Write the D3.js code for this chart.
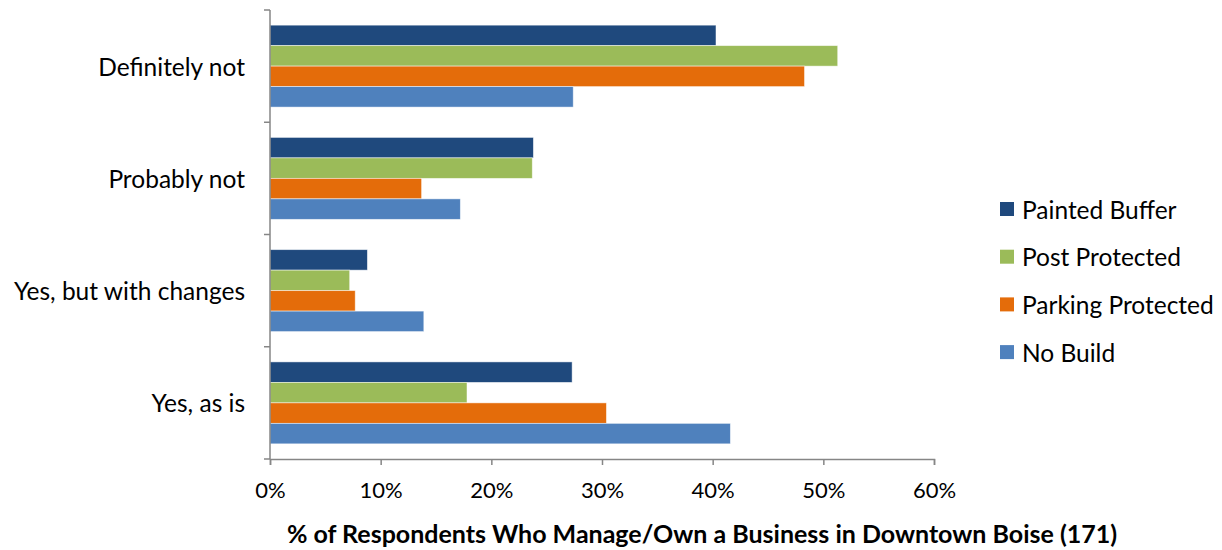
<!DOCTYPE html>
<html lang="en">
<head>
    <meta charset="UTF-8">
    <title>Respondents Who Manage/Own a Business in Downtown Boise</title>
    <script src="https://d3js.org/d3.v7.min.js"></script>
    <style>
        body { margin: 0; background: #fff; }
        svg text { font-family: Lato, "Open Sans", sans-serif; fill: #000; }
        .axis-line { stroke: #868686; stroke-width: 1.5; }
    </style>
</head>
<body>
    <svg id="chart" width="1222" height="550"></svg>

    <script>
        // data (percent)
        const categories = ['Definitely not', 'Probably not', 'Yes, but with changes', 'Yes, as is'];
        const seriesNames = ['Painted Buffer', 'Post Protected', 'Parking Protected', 'No Build'];
        const seriesColors = ['#1F497D', '#9BBB59', '#E46C0A', '#4F81BD'];
        const paintedBuffer = [40.3, 23.8, 8.8, 27.3];
        const postProtected = [51.3, 23.7, 7.2, 17.8];
        const parkingProtected = [48.3, 13.7, 7.7, 30.4];
        const noBuild = [27.4, 17.2, 13.9, 41.6];
        const xTicks = [0, 10, 20, 30, 40, 50, 60];
        const xTitle = '% of Respondents Who Manage/Own a Business in Downtown Boise (171)';

        const seriesValues = [paintedBuffer, postProtected, parkingProtected, noBuild];

        const svg = d3.select('#chart');
        const plot = { left: 270, right: 934, top: 10, bottom: 459 };

        const x = d3.scaleLinear().domain([0, 60]).range([plot.left, plot.right]);
        const y0 = d3.scaleBand().domain(categories).range([plot.top, plot.bottom])
            .paddingInner(0.27).paddingOuter(0.135);
        const y1 = d3.scaleBand().domain(seriesNames).range([0, y0.bandwidth()]);
        const color = d3.scaleOrdinal().domain(seriesNames).range(seriesColors);

        // bars
        const groups = svg.append('g').selectAll('g')
            .data(categories)
            .join('g')
            .attr('transform', d => `translate(0,${y0(d)})`);

        groups.selectAll('rect')
            .data((c, i) => seriesNames.map((s, j) => ({ s, v: seriesValues[j][i] })))
            .join('rect')
            .attr('x', x(0))
            .attr('y', d => y1(d.s))
            .attr('width', d => x(d.v) - x(0))
            .attr('height', y1.bandwidth())
            .attr('fill', d => color(d.s))
            .attr('stroke', 'rgba(255,255,255,0.6)')
            .attr('stroke-width', 0.8);

        // y axis line and ticks at category boundaries
        const yBounds = d3.range(categories.length + 1).map(i => plot.top + i * y0.step());
        svg.append('line').attr('class', 'axis-line')
            .attr('x1', plot.left).attr('x2', plot.left)
            .attr('y1', plot.top).attr('y2', plot.bottom);
        svg.append('g').selectAll('line')
            .data(yBounds)
            .join('line')
            .attr('class', 'axis-line')
            .attr('x1', plot.left - 6).attr('x2', plot.left)
            .attr('y1', d => d).attr('y2', d => d);

        svg.append('g').selectAll('text')
            .data(categories)
            .join('text')
            .attr('x', 245)
            .attr('y', d => y0(d) + y0.bandwidth() / 2)
            .attr('text-anchor', 'end')
            .attr('dominant-baseline', 'central')
            .style('font-size', '24.5px')
            .text(d => d);

        // x axis
        const xAxis = svg.append('g')
            .attr('transform', `translate(0,${plot.bottom})`)
            .call(d3.axisBottom(x).tickValues(xTicks).tickFormat(d => d + '%').tickSize(6).tickPadding(17));
        xAxis.select('.domain').attr('stroke', '#868686').attr('stroke-width', 1.5);
        xAxis.selectAll('.tick line').attr('stroke', '#868686').attr('stroke-width', 1.5);
        xAxis.selectAll('.tick text')
            .style('font-family', 'Lato, sans-serif')
            .style('font-size', '22px')
            .attr('fill', '#000');

        svg.append('text')
            .attr('x', 702)
            .attr('y', 543)
            .attr('text-anchor', 'middle')
            .style('font-size', '25px')
            .style('font-weight', 'bold')
            .text(xTitle);

        // legend
        const legend = svg.append('g').selectAll('g')
            .data(seriesNames)
            .join('g')
            .attr('transform', (d, i) => `translate(1000,${209 + i * 47.7})`);
        legend.append('rect')
            .attr('x', 0).attr('y', -7)
            .attr('width', 14).attr('height', 14)
            .attr('fill', d => color(d));
        legend.append('text')
            .attr('x', 22).attr('y', 0)
            .attr('dominant-baseline', 'central')
            .style('font-size', '24.5px')
            .text(d => d);
    </script>
</body>
</html>
